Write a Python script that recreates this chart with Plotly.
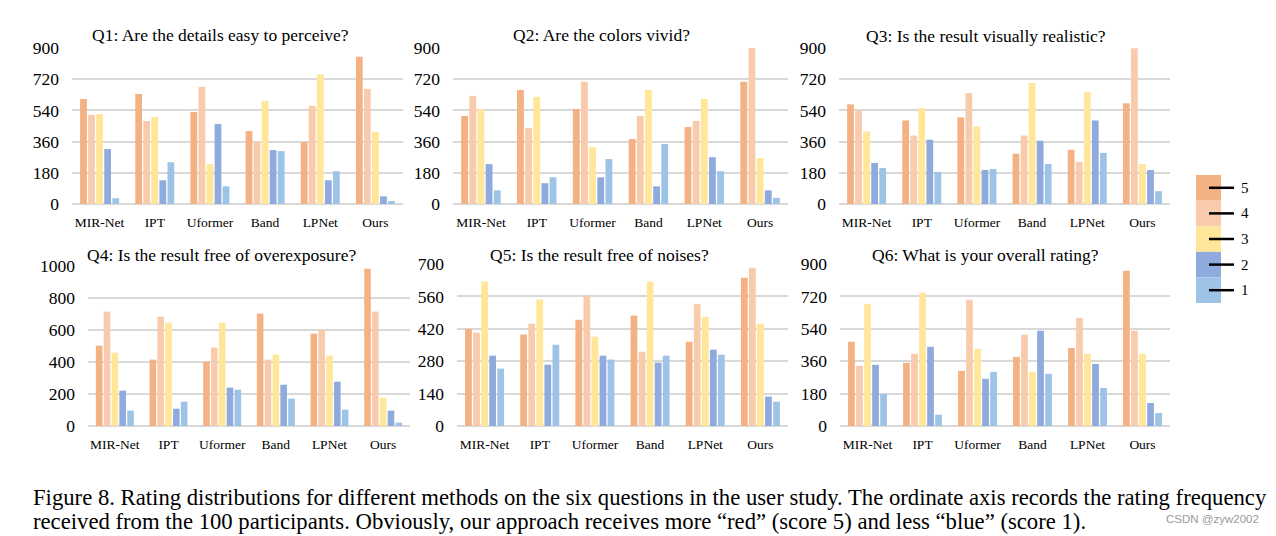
import plotly.graph_objects as go

W, H = 1276, 536
OFF = 8  # page body margin in the browser

methods = ["MIR-Net", "IPT", "Uformer", "Band", "LPNet", "Ours"]
scores = ["5", "4", "3", "2", "1"]
colors = ["#F4B183", "#F8CBAD", "#FFE699", "#8FAADC", "#9DC3E6"]

titles = [
    "Q1: Are the details easy to perceive?",
    "Q2: Are the colors vivid?",
    "Q3: Is the result visually realistic?",
    "Q4: Is the result free of overexposure?",
    "Q5: Is the result free of noises?",
    "Q6: What is your overall rating?",
]

# values per question: rows = score 5,4,3,2,1 ; columns = methods
q1 = [[606, 635, 531, 421, 357, 850],
      [514, 479, 676, 359, 566, 664],
      [519, 502, 230, 595, 747, 415],
      [317, 137, 461, 311, 137, 44],
      [33, 241, 102, 305, 189, 17]]
q2 = [[508, 658, 548, 375, 444, 705],
      [624, 438, 705, 508, 479, 900],
      [548, 618, 328, 658, 606, 265],
      [230, 120, 154, 102, 270, 79],
      [79, 154, 259, 346, 189, 35]]
q3 = [[575, 482, 500, 290, 313, 581],
      [540, 395, 640, 395, 243, 898],
      [418, 552, 447, 698, 645, 231],
      [237, 371, 196, 365, 482, 196],
      [208, 185, 202, 231, 295, 74]]
q4 = [[502, 415, 402, 702, 577, 983],
      [715, 683, 490, 415, 602, 715],
      [458, 646, 646, 446, 440, 177],
      [221, 108, 240, 258, 277, 96],
      [96, 152, 227, 171, 102, 21]]
q5 = [[420, 395, 459, 477, 364, 641],
      [403, 442, 563, 321, 528, 684],
      [624, 546, 386, 624, 472, 442],
      [304, 265, 304, 274, 330, 127],
      [248, 351, 287, 304, 308, 105]]
q6 = [[468, 351, 306, 384, 434, 863],
      [334, 401, 701, 507, 601, 529],
      [679, 740, 429, 301, 401, 401],
      [340, 440, 262, 529, 345, 128],
      [178, 63, 301, 290, 212, 72]]
questions = [q1, q2, q3, q4, q5, q6]

ytick_sets = [
    [0, 180, 360, 540, 720, 900],
    [0, 180, 360, 540, 720, 900],
    [0, 180, 360, 540, 720, 900],
    [0, 200, 400, 600, 800, 1000],
    [0, 140, 280, 420, 560, 700],
    [0, 180, 360, 540, 720, 900],
]

caption1 = ("Figure 8. Rating distributions for different methods on the six questions in the user study. "
            "The ordinate axis records the rating frequency")
caption2 = ("received from the 100 participants. Obviously, our approach receives more \u201cred\u201d "
            "(score 5) and less \u201cblue\u201d (score 1).")
watermark = "CSDN @zyw2002"


def px(x):
    return (x - OFF) / W


def py(y):
    return 1 - (y - OFF) / H


# plot areas in screen pixel coords (x0, x1, ytop, ybottom)
areas = [
    (72, 403, 48, 204),
    (453, 788, 48, 204),
    (839, 1170, 48, 204),
    (88, 410, 266, 426),
    (457, 788, 264, 426),
    (840, 1170, 264, 426),
]
title_pos = [(220, 35), (601, 35), (986, 36), (222, 255), (599, 255), (986, 255)]

SERIF = "Liberation Serif, Times New Roman, serif"

fig = go.Figure()
layout = dict(
    template="none",
    width=W, height=H, autosize=False, margin=dict(l=0, r=0, t=0, b=0, pad=0),
    paper_bgcolor="white", plot_bgcolor="white",
    barmode="group", bargap=0.27, bargroupgap=0.16,
    showlegend=False,
    font=dict(family=SERIF, color="#000000"),
)
annotations = []
shapes = []

for i, q in enumerate(questions):
    n = i + 1
    xa = "x" if n == 1 else f"x{n}"
    ya = "y" if n == 1 else f"y{n}"
    for s, (sc, col) in enumerate(zip(scores, colors)):
        fig.add_trace(go.Bar(
            x=methods, y=q[s], name=sc, marker=dict(color=col, line=dict(width=0)),
            xaxis=xa, yaxis=ya, showlegend=False,
        ))
    x0, x1, yt, yb = areas[i]
    ticks = ytick_sets[i]
    layout["xaxis" if n == 1 else f"xaxis{n}"] = dict(
        domain=[px(x0), px(x1)], anchor=ya, showgrid=False, zeroline=False,
        showline=False, ticks="", tickfont=dict(size=13.5, family=SERIF, color="#000"),
        categoryorder="array", categoryarray=methods, fixedrange=True,
        automargin=False, ticklabelstandoff=8,
    )
    layout["yaxis" if n == 1 else f"yaxis{n}"] = dict(
        domain=[py(yb), py(yt)], anchor=xa, range=[0, ticks[-1]],
        tickvals=ticks, showgrid=True, gridcolor="#D9D9D9", gridwidth=1.5,
        zeroline=True, zerolinecolor="#D9D9D9", zerolinewidth=1.5,
        showline=False, ticks="", tickfont=dict(size=17.5, family=SERIF, color="#000"),
        ticklabelstandoff=12, fixedrange=True, automargin=False,
    )
    tx, ty = title_pos[i]
    annotations.append(dict(
        text=titles[i], x=px(tx), y=py(ty), xref="paper", yref="paper",
        xanchor="center", yanchor="middle", showarrow=False,
        font=dict(size=17.5, family=SERIF, color="#000"),
    ))

# legend block
leg_x0, leg_x1 = 1196, 1221
leg_top, leg_h = 175, 25.6
for k, (sc, col) in enumerate(zip(scores, colors)):
    y0 = leg_top + k * leg_h
    shapes.append(dict(type="rect", xref="paper", yref="paper",
                       x0=px(leg_x0), x1=px(leg_x1), y0=py(y0 + leg_h), y1=py(y0),
                       fillcolor=col, line=dict(width=0), layer="below"))
    yc = y0 + leg_h / 2
    shapes.append(dict(type="line", xref="paper", yref="paper",
                       x0=px(1209), x1=px(1234), y0=py(yc), y1=py(yc),
                       line=dict(color="black", width=2.5)))
    annotations.append(dict(text=sc, x=px(1239), y=py(yc), xref="paper", yref="paper",
                            xanchor="left", yanchor="middle", showarrow=False,
                            font=dict(size=15, family=SERIF, color="#000")))

# caption
annotations.append(dict(text=caption1, x=px(31), y=py(497), xref="paper", yref="paper",
                        xanchor="left", yanchor="middle", showarrow=False,
                        font=dict(size=22.7, family=SERIF, color="#000")))
annotations.append(dict(text=caption2, x=px(31), y=py(521), xref="paper", yref="paper",
                        xanchor="left", yanchor="middle", showarrow=False,
                        font=dict(size=22.7, family=SERIF, color="#000")))
annotations.append(dict(text=watermark, x=px(1261), y=py(519), xref="paper", yref="paper",
                        xanchor="right", yanchor="middle", showarrow=False,
                        font=dict(size=11.5, family="Liberation Sans, Arial, sans-serif", color="#999999")))

layout["annotations"] = annotations
layout["shapes"] = shapes
fig.update_layout(**layout)
fig.write_html("out.html", config={"responsive": False})
